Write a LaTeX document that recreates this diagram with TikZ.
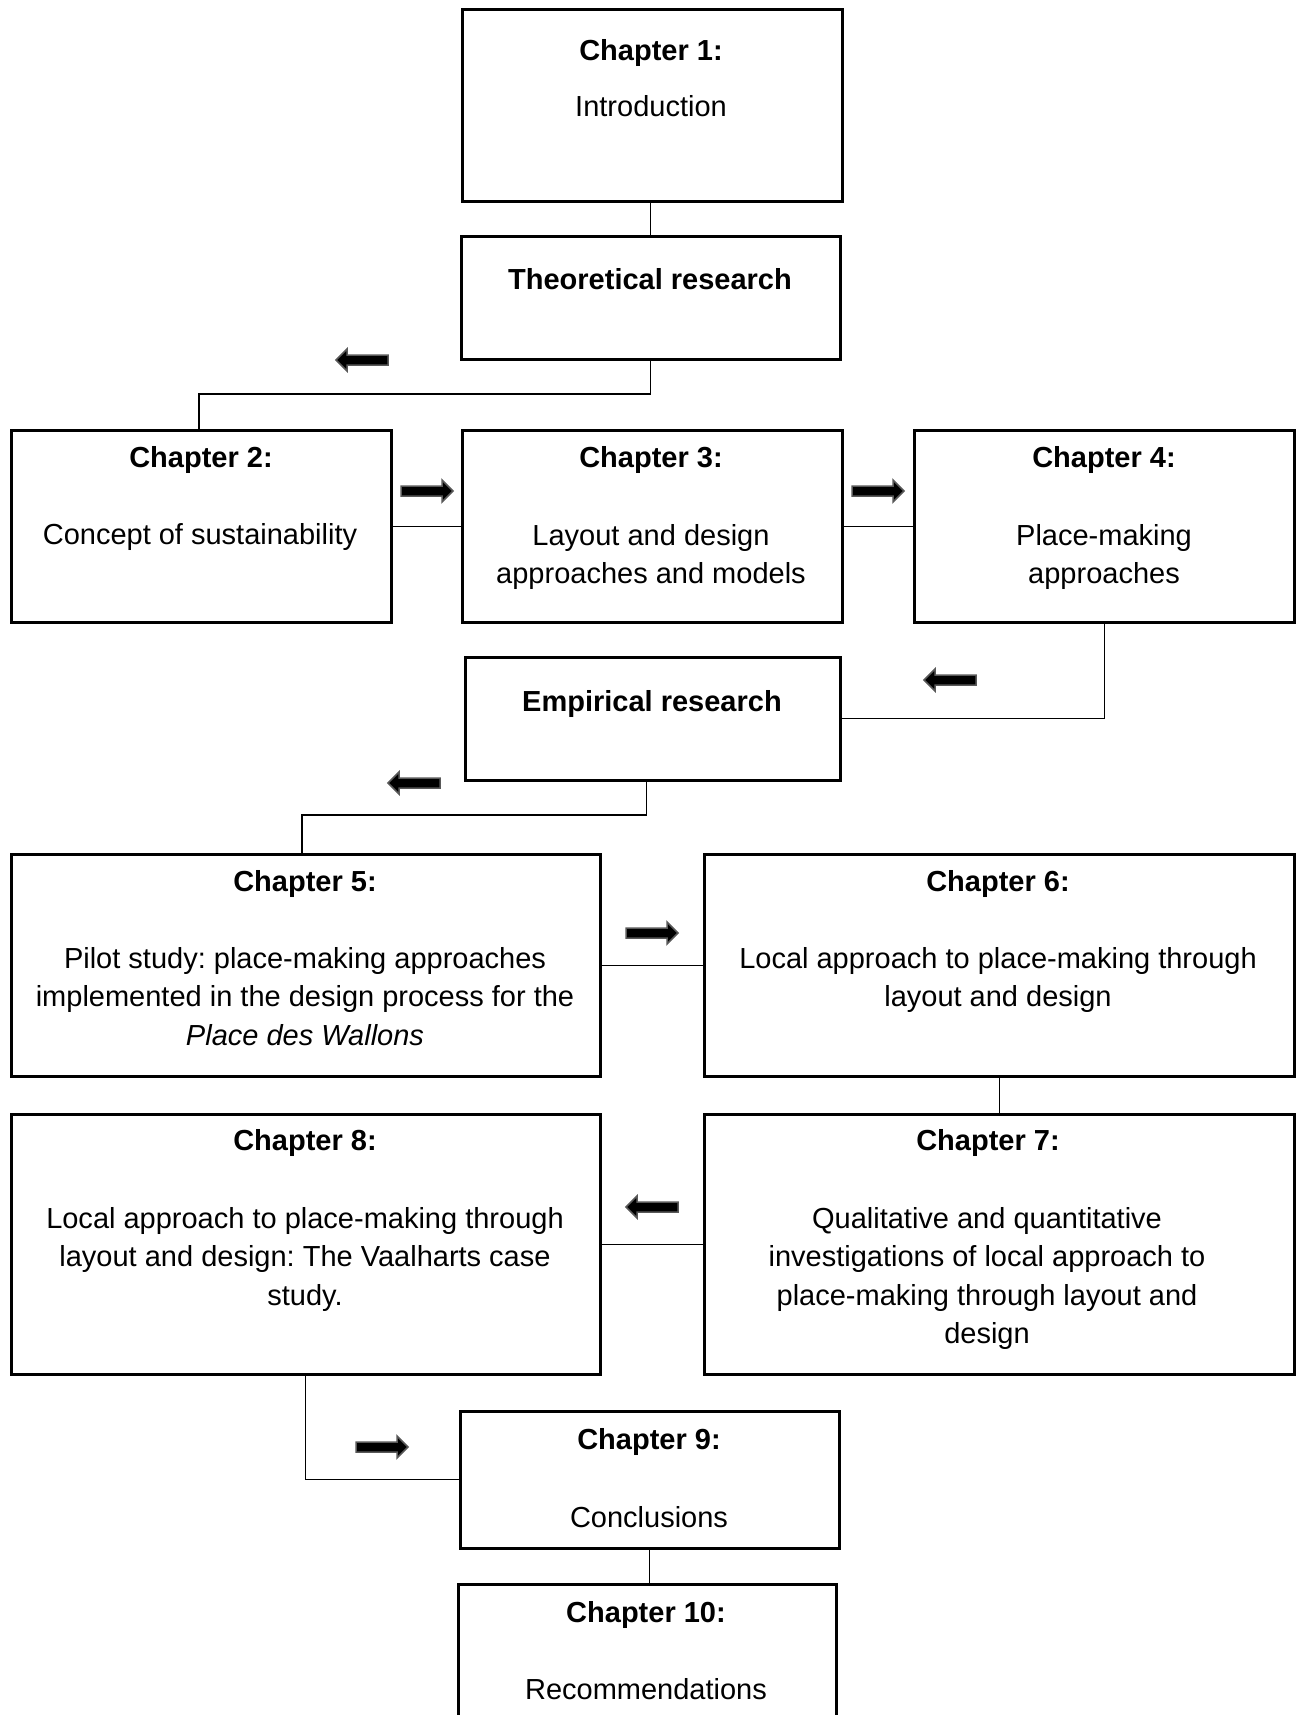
\documentclass[tikz,border=0pt]{standalone}
\usepackage{fontspec}
\setmainfont{Liberation Sans}
\usepackage{tikz}
\usetikzlibrary{calc}

\tikzset{
  box/.style={draw, line width=2.6pt, anchor=north west, inner sep=0pt},
  title/.style={font=\fontsize{29}{38.5}\selectfont\frenchspacing\bfseries, anchor=north, inner sep=0pt, yshift=-10pt},
  body/.style={font=\fontsize{29}{38.5}\selectfont\frenchspacing, anchor=north, align=center, inner sep=0pt, yshift=-10pt},
  link/.style={line width=1.3pt},
  blockarrow/.pic={
    \filldraw[fill=black, draw=black!65, line width=1.5pt]
      (-26,-5) -- (15,-5) -- (15,-11) -- (26,0) -- (15,11) -- (15,5) -- (-26,5) -- cycle;
  }
}

\begin{document}
\begin{tikzpicture}[x=1pt,y=-1pt]

\clip (0,0) rectangle (1300,1715);

% boxes
\node[box, minimum width=380, minimum height=192] (ch1) at (461,8) {};
\node[box, minimum width=379, minimum height=123] (theo) at (460,235) {};
\node[box, minimum width=380, minimum height=192] (ch2) at (10,429) {};
\node[box, minimum width=380, minimum height=192] (ch3) at (461,429) {};
\node[box, minimum width=380, minimum height=192] (ch4) at (913,429) {};
\node[box, minimum width=375, minimum height=123] (emp) at (464,656) {};
\node[box, minimum width=589, minimum height=222] (ch5) at (10,853) {};
\node[box, minimum width=590, minimum height=222] (ch6) at (703,853) {};
\node[box, minimum width=589, minimum height=260] (ch8) at (10,1113) {};
\node[box, minimum width=590, minimum height=260] (ch7) at (703,1113) {};
\node[box, minimum width=379, minimum height=137] (ch9) at (459,1410) {};
\node[box, minimum width=378, minimum height=160] (ch10) at (457,1583) {};

% texts
\node[title] (t1) at (651,29) {Chapter 1:};
\node[body] (b1) at (651,85) {Introduction};
\node[title] (ttheo) at (650,258) {Theoretical research};
\node[title] (t2) at (201,436) {Chapter 2:};
\node[body] (b2) at (200,513) {Concept of sustainability};
\node[title] (t3) at (651,436) {Chapter 3:};
\node[body] (b3) at (651,514) {Layout and design\\approaches and models};
\node[title] (t4) at (1104,436) {Chapter 4:};
\node[body] (b4) at (1104,514) {Place-making\\approaches};
\node[title] (temp) at (652,680) {Empirical research};
\node[title] (t5) at (305,860) {Chapter 5:};
\node[body] (b5) at (305,937) {Pilot study: place-making approaches\\implemented in the design process for the\\\textit{Place des Wallons}};
\node[title] (t6) at (998,860) {Chapter 6:};
\node[body] (b6) at (998,937) {Local approach to place-making through\\layout and design};
\node[title] (t8) at (305,1119) {Chapter 8:};
\node[body] (b8) at (305,1197) {Local approach to place-making through\\layout and design: The Vaalharts case\\study.};
\node[title] (t7) at (988,1119) {Chapter 7:};
\node[body] (b7) at (987,1197) {Qualitative and quantitative\\investigations of local approach to\\place-making through layout and\\design};
\node[title] (t9) at (649,1418) {Chapter 9:};
\node[body] (b9) at (649,1496) {Conclusions};
\node[title] (t10) at (646,1591) {Chapter 10:};
\node[body] (b10) at (646,1668) {Recommendations};

% connectors
\coordinate (j1) at (199,394);
\coordinate (j2) at (302,815);
\draw[link] (theo.north) -- (theo.north |- ch1.south);
\draw[link] (theo.south) |- (j1) -- (j1 |- ch2.north);
\draw[link] (ch2.east) -- (ch3.west);
\draw[link] (ch3.east) -- (ch4.west);
\draw[link] (ch4.south) |- (emp.east);
\draw[link] ([xshift=-6pt]emp.south) |- (j2) -- (j2 |- ch5.north);
\draw[link] (ch5.east) -- (ch6.west);
\draw[link] (ch6.south) -- (ch7.north);
\draw[link] (ch7.west) -- (ch8.east);
\draw[link] (ch8.south) |- (ch9.west);
\draw[link] (ch9.south) -- (ch9.south |- ch10.north);

% block arrows
\foreach \p in {(427,491),(878,491),(652,933),(382,1447)}{
  \pic at \p {blockarrow};
}
\foreach \p in {(362,360),(950,680),(414,783),(652,1207)}{
  \pic[rotate=180] at \p {blockarrow};
}

\end{tikzpicture}
\end{document}
